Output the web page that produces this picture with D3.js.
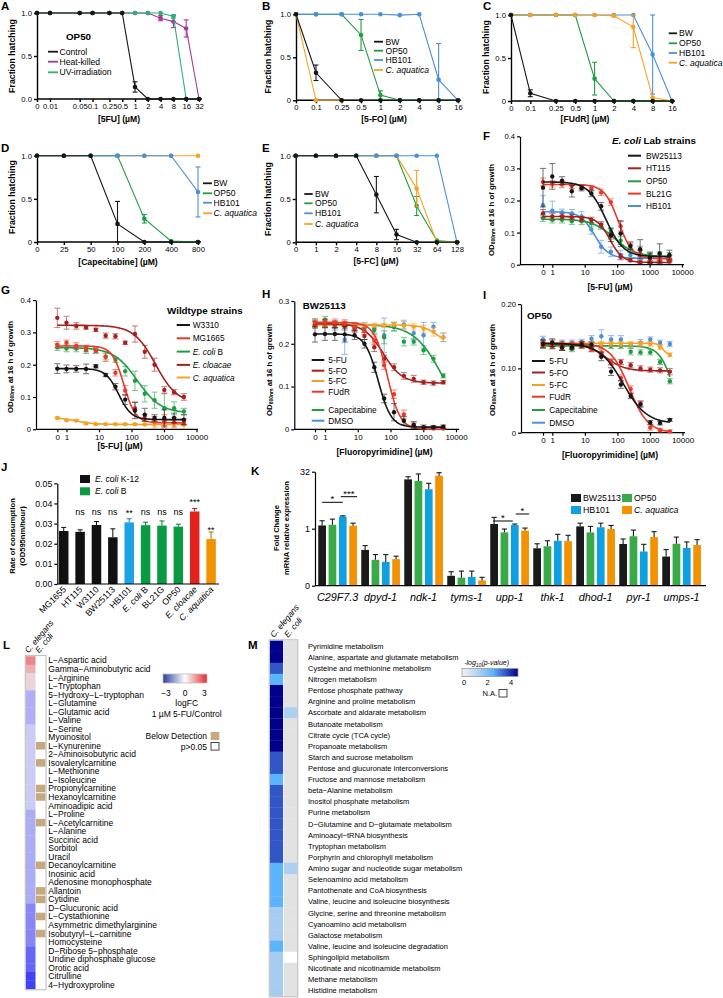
<!DOCTYPE html>
<html><head><meta charset="utf-8">
<script src="https://cdn.jsdelivr.net/npm/d3@7/dist/d3.min.js"></script>
<style>
html,body{margin:0;padding:0;background:#fff;}
svg{display:block;font-family:"Liberation Sans",Arial,Helvetica,sans-serif;}
</style></head><body>
<svg id="chart" width="723" height="998" viewBox="0 0 723 998"></svg>
<script>
// ======================= DATA =======================
// Panel A (OP50, 5FU)
const A_conc = [0,0.01,0.05,0.1,0.25,0.5,1,2,4,8,16,32];
const A_labels = ["0","0.01","0.05","0.1","0.25","0.5","1","2","4","8","16","32"];
const A_control = [1,1,1,1,1,1,0.14,0,0,0,0,0];
const A_control_err = [0,0,0,0,0,0,0.06,0,0,0,0,0];
const A_heat = [1,1,1,1,1,1,1,1,0.94,0.90,0.82,0];
const A_heat_err = [0,0,0,0,0,0,0,0,0.03,0.07,0.10,0];
const A_uv = [1,1,1,1,1,1,1,1,1,0.96,0,null];
const A_uv_err = [0,0,0,0,0,0,0,0,0,0.02,0,0];
// Panel B (5-FO)
const BC_conc = [0,0.1,0.25,0.5,1,2,4,8,16];
const BC_labels = ["0","0.1","0.25","0.5","1","2","4","8","16"];
const B_BW = [1,0.32,0,0,0,0,0,0,0];
const B_BW_err = [0,0.09,0,0,0,0,0,0,0];
const B_OP50 = [1,1,1,0.76,0.06,0,0,0,0];
const B_OP50_err = [0,0,0,0.18,0.05,0,0,0,0];
const B_HB101 = [1,1,1,1,1,0.99,1,0.24,0];
const B_HB101_err = [0,0,0,0,0,0,0,0.42,0];
const B_Caq = [1,0,0,null,null,null,null,null,null];
// Panel C (FUdR)
const C_BW = [1,0.09,0,0,0,0,0,0,0];
const C_BW_err = [0,0.04,0,0,0,0,0,0,0];
const C_OP50 = [1,1,1,1,0.26,0,0,0,0];
const C_OP50_err = [0,0,0,0,0.19,0,0,0,0];
const C_HB101 = [1,1,1,1,1,1,1,0.54,0];
const C_HB101_err = [0,0,0,0,0,0,0,0.46,0];
const C_Caq = [1,1,1,1,1,0.99,0.86,0.04,0];
const C_Caq_err = [0,0,0,0,0,0.01,0.24,0,0];
// Panel D (Capecitabine)
const D_labels = ["0","25","50","100","200","400","800"];
const D_BW = [1,1,1,0.21,0,0,0];
const D_BW_err = [0,0,0,0.26,0,0,0];
const D_OP50 = [1,1,1,1,0.27,0.01,0];
const D_OP50_err = [0,0,0,0,0.05,0,0];
const D_HB101 = [1,1,1,1,1,1,0.58];
const D_HB101_err = [0,0,0,0,0,0,0.29];
const D_Caq = [1,1,1,1,1,1,1];
// Panel E (5-FC)
const E_labels = ["0","1","2","4","8","16","32","64","128"];
const E_BW = [1,1,1,1,0.55,0.09,0,0,0];
const E_BW_err = [0,0,0,0,0.21,0.06,0,0,0];
const E_OP50 = [1,1,1,1,1,1,0.42,0.02,0];
const E_OP50_err = [0,0,0,0,0,0,0.11,0,0];
const E_HB101 = [1,1,1,1,1,1,1,1,0];
const E_Caq = [1,1,1,1,1,1,0.62,0,0];
const E_Caq_err = [0,0,0,0,0,0,0.21,0,0];

// Panels F-I dose response (OD600 at 16 h)
const FI_conc = [0,1,2,4,8,16,32,64,128,256,512,1024,2048,4096];
const FI_ticks = [0,1,10,100,1000,10000];
const FI_tickLabels = ["0","1","10","100","1000","10000"];
// fit parameters: [top, bottom, IC50, hill]
const F_BW25113 = [0.240,0.275,0.262,0.229,0.238,0.222,0.182,0.092,0.097,0.058,0.048,0.022,0.035,0.030];
const F_BW25113_err = [0.060,0.040,0.012,0.018,0.008,0.010,0.012,0.020,0.040,0.010,0.030,0.015,0.030,0.015];
const F_BW25113_fit = [0.258,0.025,45,1.6];
const F_HT115 = [0.160,0.150,0.150,0.148,0.142,0.140,0.125,0.090,0.025,0.014,0.008,0.008,0.010,0.010];
const F_HT115_err = [0.012,0.010,0.008,0.008,0.008,0.008,0.010,0.010,0.008,0.005,0.004,0.004,0.004,0.004];
const F_HT115_fit = [0.150,0.007,60,2.2];
const F_OP50 = [0.145,0.140,0.140,0.135,0.135,0.130,0.120,0.105,0.075,0.050,0.045,0.030,0.030,0.028];
const F_OP50_err = [0.010,0.010,0.010,0.010,0.010,0.010,0.010,0.010,0.012,0.012,0.012,0.010,0.010,0.010];
const F_OP50_fit = [0.142,0.025,80,1.3];
const F_BL21G = [0.258,0.252,0.250,0.245,0.242,0.238,0.225,0.195,0.120,0.060,0.035,0.022,0.020,0.020];
const F_BL21G_err = [0.012,0.010,0.010,0.008,0.008,0.008,0.010,0.010,0.015,0.012,0.010,0.008,0.008,0.008];
const F_BL21G_fit = [0.250,0.018,110,2.0];
const F_HB101 = [0.185,0.168,0.163,0.160,0.150,0.110,0.056,0.040,0.030,0.030,0.025,0.020,0.020,0.020];
const F_HB101_err = [0.030,0.030,0.010,0.012,0.015,0.015,0.020,0.015,0.015,0.010,0.010,0.015,0.010,0.010];
const F_HB101_fit = [0.165,0.020,20,2.0];

const G_W3310 = [0.188,0.187,0.187,0.187,0.195,0.168,0.132,0.092,0.058,0.045,0.035,0.035,0.035,0.030];
const G_W3310_err = [0.015,0.012,0.010,0.015,0.005,0.005,0.010,0.015,0.025,0.020,0.010,0.025,0.015,0.015];
const G_W3310_fit = [0.188,0.030,40,2.2];
const G_MG1665 = [0.262,0.268,0.258,0.250,0.245,0.225,0.175,0.120,0.065,0.035,0.030,0.025,0.022,0.022];
const G_MG1665_err = [0.010,0.008,0.010,0.010,0.008,0.015,0.010,0.015,0.020,0.010,0.010,0.020,0.015,0.010];
const G_MG1665_fit = [0.258,0.020,58,2.4];
const G_EcoliB = [0.254,0.250,0.250,0.245,0.243,0.225,0.215,0.180,0.150,0.110,0.090,0.065,0.065,0.055];
const G_EcoliB_err = [0.010,0.010,0.010,0.010,0.008,0.010,0.008,0.015,0.030,0.025,0.025,0.045,0.020,0.010];
const G_EcoliB_fit = [0.253,0.050,150,1.2];
const G_Ecloacae = [0.345,0.330,0.320,0.315,0.308,0.290,0.288,0.268,0.295,0.240,0.200,0.122,0.115,0.100];
const G_Ecloacae_err = [0.030,0.020,0.010,0.005,0.005,0.008,0.008,0.005,0.025,0.020,0.020,0.010,0.008,0.010];
const G_Ecloacae_fit = [0.322,0.080,550,1.3];
const G_Caq = [0.035,0.028,0.027,0.018,0.016,0.016,0.016,0.016,0.016,0.015,0.015,0.015,0.015,0.015];
const G_Caq_err = [0.003,0.003,0.003,0.002,0.002,0.002,0.002,0.002,0.002,0.002,0.010,0.012,0.012,0.012];
const G_Caq_fit = [0.037,0.015,2,1.5];

const H_5FU = [0.222,0.223,0.223,0.222,0.220,0.200,0.145,0.072,0.040,0.020,0.010,0.005,0.005,0.006];
const H_5FU_err = [0.018,0.015,0.015,0.018,0.010,0.010,0.012,0.010,0.020,0.010,0.008,0.005,0.004,0.004];
const H_5FU_fit = [0.223,0.005,42,2.2];
const H_5FO = [0.245,0.248,0.245,0.243,0.235,0.218,0.192,0.165,0.145,0.125,0.118,0.110,0.108,0.110];
const H_5FO_err = [0.008,0.008,0.008,0.008,0.008,0.008,0.010,0.008,0.008,0.008,0.008,0.005,0.005,0.004];
const H_5FO_fit = [0.247,0.108,60,1.5];
const H_5FC = [0.245,0.245,0.245,0.245,0.243,0.243,0.243,0.243,0.245,0.242,0.240,0.235,0.228,0.215];
const H_5FC_err = [0.008,0.008,0.008,0.008,0.005,0.005,0.005,0.005,0.005,0.010,0.008,0.008,0.010,0.010];
const H_5FC_fit = [0.244,0.200,2500,2];
const H_FUdR = [0.250,0.250,0.250,0.248,0.240,0.230,0.208,0.150,0.082,0.035,0.010,0.002,0.002,0.002];
const H_FUdR_err = [0.008,0.008,0.008,0.008,0.008,0.008,0.010,0.010,0.010,0.010,0.005,0.004,0.003,0.003];
const H_FUdR_fit = [0.250,0.000,80,2.2];
const H_Cape = [0.250,0.256,0.245,0.240,0.240,0.235,0.232,0.215,0.240,0.205,0.205,0.185,0.165,0.125];
const H_Cape_err = [0.008,0.008,0.008,0.008,0.008,0.008,0.010,0.015,0.010,0.010,0.008,0.010,0.008,0.005];
const H_Cape_fit = [0.245,0.000,4000,1];
const H_DMSO = [0.245,0.245,0.240,0.210,0.240,0.240,0.235,0.220,0.240,0.245,0.225,0.220,0.240,0.215];
const H_DMSO_err = [0.008,0.008,0.008,0.035,0.010,0.010,0.010,0.040,0.010,0.010,0.015,0.030,0.010,0.010];

const I_5FU = [0.138,0.140,0.133,0.133,0.137,0.137,0.118,0.095,0.075,0.057,0.044,0.016,0.015,0.020];
const I_5FU_err = [0.006,0.006,0.005,0.004,0.004,0.004,0.006,0.006,0.006,0.004,0.004,0.003,0.003,0.002];
const I_5FU_fit = [0.139,0.014,150,1.2];
const I_5FO = [0.137,0.135,0.132,0.135,0.138,0.130,0.122,0.110,0.110,0.105,0.100,0.098,0.097,0.095];
const I_5FO_err = [0.004,0.004,0.004,0.004,0.004,0.004,0.004,0.004,0.004,0.004,0.004,0.004,0.004,0.005];
const I_5FO_fit = [0.138,0.096,45,1.5];
const I_5FC = [0.136,0.135,0.133,0.135,0.138,0.138,0.138,0.138,0.138,0.138,0.138,0.138,0.133,0.121];
const I_5FC_err = [0.004,0.004,0.004,0.004,0.004,0.004,0.004,0.004,0.004,0.004,0.004,0.004,0.004,0.003];
const I_5FC_fit = [0.139,0.121,2500,6];
const I_FUdR = [0.140,0.140,0.138,0.137,0.135,0.130,0.125,0.110,0.085,0.068,0.045,0.008,0.004,0.002];
const I_FUdR_err = [0.004,0.004,0.004,0.004,0.004,0.004,0.004,0.005,0.005,0.005,0.005,0.004,0.003,0.002];
const I_FUdR_fit = [0.139,0.000,230,1.5];
const I_Cape = [0.135,0.134,0.133,0.130,0.135,0.135,0.135,0.135,0.135,0.126,0.125,0.125,0.110,0.080];
const I_Cape_err = [0.004,0.004,0.004,0.004,0.004,0.004,0.004,0.004,0.004,0.005,0.004,0.004,0.004,0.004];
const I_Cape_fit = [0.135,0.000,5500,2];
const I_DMSO = [0.145,0.140,0.140,0.140,0.141,0.146,0.150,0.145,0.145,0.136,0.140,0.145,0.140,0.138];
const I_DMSO_err = [0.005,0.004,0.004,0.004,0.004,0.005,0.010,0.006,0.006,0.004,0.005,0.004,0.004,0.004];

// Panel J
const J_strains = ["MG1655","HT115","W3110","BW25113","HB101","E. coli B","BL21G","OP50","E. cloacae","C. aquatica"];
const J_rate = [0.0263,0.0259,0.0293,0.0232,0.0306,0.0292,0.0290,0.0285,0.0360,0.0223];
const J_err = [0.0018,0.0010,0.0017,0.0042,0.0018,0.0015,0.0023,0.0012,0.0015,0.0035];
const J_group = ["k12","k12","k12","k12","hb","b","b","b","clo","caq"];
const J_sig = ["","ns","ns","ns","**","ns","ns","ns","***","**"];
const J_yTicks = [0,0.01,0.02,0.03,0.04,0.05];

// Panel K
const K_genes = ["C29F7.3","dpyd-1","ndk-1","tyms-1","upp-1","thk-1","dhod-1","pyr-1","umps-1"];
const K_strains = ["BW25113","OP50","HB101","C. aquatica"];
const K_BW25113 = [1.22,0.275,20.1,0.057,1.33,0.304,1.15,0.395,0.184];
const K_OP50 = [1.27,0.151,18.3,0.051,0.80,0.344,0.80,0.63,0.40];
const K_HB101 = [2.11,0.133,11.0,0.053,1.25,0.48,1.09,0.25,0.31];
const K_Caq = [1.20,0.157,25.1,0.043,0.89,0.47,0.98,0.60,0.37];
const K_BW25113_hi = [1.62,0.358,23.6,0.073,1.99,0.40,1.40,0.535,0.28];
const K_OP50_hi = [1.79,0.207,27.9,0.076,0.98,0.48,1.15,0.92,0.60];
const K_HB101_hi = [2.19,0.207,15.8,0.076,1.33,0.71,1.40,0.387,0.447];
const K_Caq_hi = [1.40,0.188,30.1,0.052,1.04,0.67,1.22,0.835,0.514];
const K_yTicks = [1/32,1,32];
const K_yLabels = ["0","1","32"];

// Panel L
const L_metabolites = ["L\u2212Aspartic acid","Gamma\u2212Aminobutyric acid","L\u2212Arginine","L\u2212Tryptophan","5\u2212Hydroxy\u2212L\u2212tryptophan","L\u2212Glutamine","L\u2212Glutamic acid","L\u2212Valine","L\u2212Serine","Myoinositol","L\u2212Kynurenine","2\u2212Aminoisobutyric acid","Isovalerylcarnitine","L\u2212Methionine","L\u2212Isoleucine","Propionylcarnitine","Hexanoylcarnitine","Aminoadipic acid","L\u2212Proline","L\u2212Acetylcarnitine","L\u2212Alanine","Succinic acid","Sorbitol","Uracil","Decanoylcarnitine","Inosinic acid","Adenosine monophosphate","Allantoin","Cytidine","D\u2212Glucuronic acid","L\u2212Cystathionine","Asymmetric dimethylarginine","Isobutyryl\u2212L\u2212carnitine","Homocysteine","D\u2212Ribose 5\u2212phosphate","Uridine diphosphate glucose","Orotic acid","Citrulline","4\u2212Hydroxyproline"];
const L_celegans = [1.7,1.0,0.4,0.4,-0.95,-0.95,-0.95,-0.95,-0.5,-0.5,-0.5,-0.5,-0.5,-0.5,-0.5,-0.5,-0.5,-0.5,-1.0,-1.0,-1.0,-1.0,-1.0,-1.0,-1.0,-1.0,-1.0,-1.0,-1.0,-1.6,-1.6,-1.6,-1.6,-1.6,-2.1,-2.1,-2.1,-2.7,-2.7];
const L_ecoli = ["ns","ns","ns","ns","ns","ns","ns","ns","ns","ns","bd","ns","bd","ns","ns","bd","bd","ns","ns","bd","ns","ns","ns","ns","bd","ns","ns","bd","bd","ns","bd","ns","bd","ns","ns","ns","ns","ns","ns"];

// Panel M
const M_pathways = ["Pyrimidine metabolism","Alanine, aspartate and glutamate metabolism","Cysteine and methionine metabolism","Nitrogen metabolism","Pentose phosphate pathway","Arginine and proline metabolism","Ascorbate and aldarate metabolism","Butanoate metabolism","Citrate cycle (TCA cycle)","Propanoate metabolism","Starch and sucrose metabolism","Pentose and glucuronate interconversions","Fructose and mannose metabolism","beta\u2212Alanine metabolism","Inositol phosphate metabolism","Purine metabolism","D\u2212Glutamine and D\u2212glutamate metabolism","Aminoacyl\u2212tRNA biosynthesis","Tryptophan metabolism","Porphyrin and chlorophyll metabolism","Amino sugar and nucleotide sugar metabolism","Selenoamino acid metabolism","Pantothenate and CoA biosynthesis","Valine, leucine and isoleucine biosynthesis","Glycine, serine and threonine metabolism","Cyanoamino acid metabolism","Galactose metabolism","Valine, leucine and isoleucine degradation","Sphingolipid metabolism","Nicotinate and nicotinamide metabolism","Methane metabolism","Histidine metabolism"];
const M_celegans = [4.6,4.6,3.5,2.3,4.6,4.6,4.6,4.6,4.6,4.6,3.5,3.5,2.3,3.5,3.5,3.5,3.5,3.5,3.5,3.5,2.3,2.3,2.3,2.3,1.5,1.5,1.5,2.3,1.5,1.5,1.5,1.5];
const M_ecoli = [null,null,null,null,null,null,1.4,null,null,null,null,null,null,null,null,null,null,null,null,null,1.4,null,null,null,null,null,null,null,0,null,null,null];

// ======================= COLOURS =======================
const BLACK="#161616", PURPLE="#a23a9d", MINT="#2fae78", GREEN="#1f9d42", BLUE="#4a90d9", ORANGE="#f5a224", DKRED="#a3211f", RED="#e8392a";

// ======================= HELPERS =======================
const svg = d3.select("#chart");
const defs = svg.append("defs");
function addText(x, y, str, o = {}) {
  const t = svg.append("text").attr("x", x).attr("y", y)
    .attr("font-size", o.size || 8).attr("fill", o.fill || "#000");
  if (o.anchor) t.attr("text-anchor", o.anchor);
  if (o.weight) t.attr("font-weight", o.weight);
  if (o.italic) t.attr("font-style", "italic");
  if (o.rotate != null) t.attr("transform", `rotate(${o.rotate},${x},${y})`);
  if (o.baseline) t.attr("dominant-baseline", o.baseline);
  if (Array.isArray(str)) {
    str.forEach(p => { const s = t.append("tspan").text(p[0]); if (p[1]) s.attr("font-style","italic"); });
  } else t.text(str);
  return t;
}
function styleAxis(a, size, sw) {
  a.attr("font-size", size).attr("font-family", "Liberation Sans, Arial, sans-serif");
  a.selectAll("path,line").attr("stroke", "#000").attr("stroke-width", sw);
  a.selectAll("text").attr("fill", "#000");
}
function legend(L) {
  L.items.forEach((it, i) => {
    svg.append("line").attr("x1", L.x1).attr("x2", L.x2).attr("y1", L.ys[i]).attr("y2", L.ys[i])
      .attr("stroke", it.color).attr("stroke-width", L.sw || 1.8);
    let content = it.name;
    if (it.italic) {
      const w = it.name.split(" ");
      content = [[w.slice(0, 2).join(" "), true]];
      if (w.length > 2) content.push([" " + w.slice(2).join(" "), false]);
    }
    addText(L.tx, L.ys[i] + 3, content, { size: L.size || 8.6 });
  });
}
function yTitle(x, y, str, size) {
  addText(x, y, str, { size: size || 8.8, weight: "bold", anchor: "middle", rotate: -90, baseline: "central" });
}
function odTitle(x, y) {
  const t = svg.append("text").attr("x", x).attr("y", y).attr("font-size", 7.8).attr("font-weight", "bold")
    .attr("text-anchor", "middle").attr("dominant-baseline", "central").attr("transform", `rotate(-90,${x},${y})`);
  t.append("tspan").text("OD");
  t.append("tspan").text("600nm").attr("font-size", 5).attr("dy", 1.8);
  t.append("tspan").text(" at 16 h of growth").attr("dy", -1.8);
}

// ======================= HATCHING PANELS =======================
function hatchPanel(p) {
  const g = svg.append("g");
  const y = d3.scaleLinear().domain([0, 1]).range([p.yb, p.yt]);
  const ga = g.append("g").attr("transform", `translate(${p.ax},0)`)
    .call(d3.axisLeft(y).tickValues([0, 0.5, 1]).tickFormat((d, i) => p.yLabels[i]).tickSize(3).tickSizeOuter(0).tickPadding(2));
  const xo = d3.scaleOrdinal().domain(p.labels).range(p.conc.map(p.pos));
  const gx = g.append("g").attr("transform", `translate(0,${p.yb})`)
    .call(d3.axisBottom(xo).tickSize(3).tickPadding(1.5));
  gx.select(".domain").remove();
  styleAxis(ga, 7.7, 1.4); styleAxis(gx, 7.7, 1.4);
  g.append("line").attr("x1", p.ax).attr("x2", p.xEnd).attr("y1", p.yb).attr("y2", p.yb).attr("stroke", "#000").attr("stroke-width", 1.4);
  p.series.forEach(s => {
    const pts = p.conc.map((c, i) => ({ x: p.pos(c), v: s.vals[i], e: s.err ? s.err[i] : 0 })).filter(d => d.v != null);
    g.append("path").datum(pts).attr("fill", "none").attr("stroke", s.color).attr("stroke-width", 1.1)
      .attr("d", d3.line().x(d => d.x).y(d => y(d.v)));
    pts.filter(d => d.e > 0).forEach(d => {
      const lo = y(Math.max(0, d.v - d.e)), hi = y(Math.min(1, d.v + d.e));
      g.append("line").attr("x1", d.x).attr("x2", d.x).attr("y1", lo).attr("y2", hi).attr("stroke", s.color).attr("stroke-width", 1.1);
      [lo, hi].forEach(yy => g.append("line").attr("x1", d.x - 2.5).attr("x2", d.x + 2.5).attr("y1", yy).attr("y2", yy).attr("stroke", s.color).attr("stroke-width", 1.1));
    });
    g.selectAll(null).data(pts).enter().append("circle").attr("cx", d => d.x).attr("cy", d => y(d.v)).attr("r", 2.3).attr("fill", s.color);
  });
  addText(p.xTitle[1], p.xTitle[2], p.xTitle[0], { size: 8.6, weight: "bold", anchor: "middle" });
  yTitle(p.yTitleX, p.yTitleY, "Fraction hatching", 8.8);
}

// A
(function () {
  const xs = d3.scaleLog().domain([0.01, 32]).range([50, 199]);
  hatchPanel({ ax: 37, yt: 13, yb: 99, xEnd: 202, conc: A_conc, labels: A_labels, pos: c => c === 0 ? 37 : xs(c),
    yLabels: ["0.0", "0.5", "1.0"],
    series: [{ vals: A_heat, err: A_heat_err, color: PURPLE }, { vals: A_uv, err: A_uv_err, color: MINT }, { vals: A_control, err: A_control_err, color: BLACK }],
    xTitle: ["[5FU] (\u00b5M)", 119, 121.5], yTitleX: 12, yTitleY: 56 });
  addText(66, 40, "OP50", { size: 9.8, weight: "bold" });
  legend({ x1: 48, x2: 58, tx: 59.5, ys: [51.7, 61.7, 72.3], items: [{ name: "Control", color: BLACK }, { name: "Heat-killed", color: PURPLE }, { name: "UV-irradiation", color: MINT }] });
})();
// B
(function () {
  const xs = d3.scaleLog().domain([0.1, 16]).range([316, 458]);
  hatchPanel({ ax: 296, yt: 14.3, yb: 100.3, xEnd: 461, conc: BC_conc, labels: BC_labels, pos: c => c === 0 ? 296 : xs(c),
    yLabels: ["0", "0.5", "1.0"],
    series: [{ vals: B_OP50, err: B_OP50_err, color: GREEN }, { vals: B_HB101, err: B_HB101_err, color: BLUE }, { vals: B_Caq, color: ORANGE }, { vals: B_BW, err: B_BW_err, color: BLACK }],
    xTitle: ["[5-FO] (\u00b5M)", 384, 121.5], yTitleX: 268, yTitleY: 56.5 });
  legend({ x1: 374, x2: 383, tx: 385.5, ys: [41.7, 50.7, 60, 70], items: [{ name: "BW", color: BLACK }, { name: "OP50", color: GREEN }, { name: "HB101", color: BLUE }, { name: "C. aquatica", color: ORANGE, italic: true }] });
})();
// C
(function () {
  const xs = d3.scaleLog().domain([0.1, 16]).range([530.3, 672]);
  hatchPanel({ ax: 511, yt: 15, yb: 101, xEnd: 675, conc: BC_conc, labels: BC_labels, pos: c => c === 0 ? 511 : xs(c),
    yLabels: ["0", "0.5", "1.0"],
    series: [{ vals: C_OP50, err: C_OP50_err, color: GREEN }, { vals: C_HB101, err: C_HB101_err, color: BLUE }, { vals: C_Caq, err: C_Caq_err, color: ORANGE }, { vals: C_BW, err: C_BW_err, color: BLACK }],
    xTitle: ["[FUdR] (\u00b5M)", 585, 122], yTitleX: 486, yTitleY: 57 });
  legend({ x1: 668.7, x2: 677, tx: 679, ys: [33.3, 43.3, 53, 62.7], items: [{ name: "BW", color: BLACK }, { name: "OP50", color: GREEN }, { name: "HB101", color: BLUE }, { name: "C. aquatica", color: ORANGE, italic: true }] });
})();
// D
(function () {
  const xp = d3.scalePoint().domain(D_labels).range([37, 198]);
  hatchPanel({ ax: 37, yt: 155.7, yb: 242, xEnd: 201, conc: D_labels, labels: D_labels, pos: c => xp(c),
    yLabels: ["0", "0.5", "1.0"],
    series: [{ vals: D_Caq, color: ORANGE }, { vals: D_OP50, err: D_OP50_err, color: GREEN }, { vals: D_HB101, err: D_HB101_err, color: BLUE }, { vals: D_BW, err: D_BW_err, color: BLACK }],
    xTitle: ["[Capecitabine] (\u00b5M)", 118, 264.5], yTitleX: 12, yTitleY: 197 });
  legend({ x1: 203, x2: 212, tx: 213.5, ys: [183.3, 193.3, 202.7, 213.3], items: [{ name: "BW", color: BLACK }, { name: "OP50", color: GREEN }, { name: "HB101", color: BLUE }, { name: "C. aquatica", color: ORANGE, italic: true }] });
})();
// E
(function () {
  const xp = d3.scalePoint().domain(E_labels).range([295.7, 457]);
  hatchPanel({ ax: 295.7, yt: 155.7, yb: 242.3, xEnd: 460, conc: E_labels, labels: E_labels, pos: c => xp(c),
    yLabels: ["0", "0.5", "1.0"],
    series: [{ vals: E_OP50, err: E_OP50_err, color: GREEN }, { vals: E_Caq, err: E_Caq_err, color: ORANGE }, { vals: E_HB101, color: BLUE }, { vals: E_BW, err: E_BW_err, color: BLACK }],
    xTitle: ["[5-FC] (\u00b5M)", 376, 264], yTitleX: 268, yTitleY: 199 });
  legend({ x1: 304.3, x2: 312.7, tx: 315, ys: [194, 203.3, 213.3, 224], items: [{ name: "BW", color: BLACK }, { name: "OP50", color: GREEN }, { name: "HB101", color: BLUE }, { name: "C. aquatica", color: ORANGE, italic: true }] });
})();

// ======================= DOSE-RESPONSE PANELS =======================
function dosePanel(p) {
  const g = svg.append("g");
  const y = d3.scaleLinear().domain([0, p.ymax]).range([p.yb, p.yt]);
  const xs = d3.scaleLog().domain([1, 10000]).range([p.x1, p.x4]);
  const pos = c => c === 0 ? p.x0 : xs(c);
  const ga = g.append("g").attr("transform", `translate(${p.ax},0)`)
    .call(d3.axisLeft(y).tickValues(p.yTicks).tickFormat((d, i) => p.yLabels[i]).tickSize(3).tickSizeOuter(0).tickPadding(2));
  const xo = d3.scaleOrdinal().domain(FI_tickLabels).range(FI_ticks.map(pos));
  const gx = g.append("g").attr("transform", `translate(0,${p.yb})`).call(d3.axisBottom(xo).tickSize(3).tickPadding(2));
  gx.select(".domain").remove();
  styleAxis(ga, 7.6, 1.2); styleAxis(gx, 8, 1.2);
  g.append("line").attr("x1", p.ax).attr("x2", p.xEnd).attr("y1", p.yb).attr("y2", p.yb).attr("stroke", "#000").attr("stroke-width", 1.2);
  const lo = xs.invert(p.x0), hi = 4096;
  const samples = d3.range(120).map(i => lo * Math.pow(hi / lo, i / 119));
  p.series.forEach(s => {
    const pts = FI_conc.map((c, i) => ({ x: pos(c), v: s.vals[i], e: s.err[i] }));
    const eg = g.append("g").attr("stroke", s.color).attr("stroke-width", 1).attr("opacity", 0.6);
    pts.forEach(d => {
      const a = y(Math.max(0, d.v - d.e)), b = y(d.v + d.e);
      eg.append("line").attr("x1", d.x).attr("x2", d.x).attr("y1", a).attr("y2", b);
      [a, b].forEach(yy => eg.append("line").attr("x1", d.x - 3).attr("x2", d.x + 3).attr("y1", yy).attr("y2", yy));
    });
    if (s.fit) {
      const [top, bot, ic, h] = s.fit;
      g.append("path").datum(samples).attr("fill", "none").attr("stroke", s.color).attr("stroke-width", 1.6)
        .attr("d", d3.line().x(c => xs(c)).y(c => y(bot + (top - bot) / (1 + Math.pow(c / ic, h)))));
    }
    g.selectAll(null).data(pts).enter().append("circle").attr("cx", d => d.x).attr("cy", d => y(d.v)).attr("r", 2.2).attr("fill", s.color);
  });
  addText(p.xTitle[1], p.xTitle[2], p.xTitle[0], { size: 8.6, weight: "bold", anchor: "middle" });
  odTitle(p.yTitleX, p.yTitleY);
}
// F
dosePanel({ ax: 520, yb: 264.7, yt: 136.3, ymax: 0.4, yTicks: [0, 0.1, 0.2, 0.3, 0.4], yLabels: ["0", "0.1", "0.2", "0.3", "0.4"],
  x0: 543, x1: 552.3, x4: 682, xEnd: 684,
  series: [
    { vals: F_HB101, err: F_HB101_err, fit: F_HB101_fit, color: BLUE },
    { vals: F_OP50, err: F_OP50_err, fit: F_OP50_fit, color: GREEN },
    { vals: F_HT115, err: F_HT115_err, fit: F_HT115_fit, color: DKRED },
    { vals: F_BL21G, err: F_BL21G_err, fit: F_BL21G_fit, color: RED },
    { vals: F_BW25113, err: F_BW25113_err, fit: F_BW25113_fit, color: BLACK }],
  xTitle: ["[5-FU] (\u00b5M)", 610, 290], yTitleX: 491, yTitleY: 210 });
addText(612, 143.5, [["E. coli", true], [" Lab strains", false]], { size: 9.8, weight: "bold" });
legend({ x1: 628, x2: 641, tx: 646, ys: [155.7, 168.3, 181.3, 193.6, 206], sw: 2, size: 8.3,
  items: [{ name: "BW25113", color: BLACK }, { name: "HT115", color: DKRED }, { name: "OP50", color: GREEN }, { name: "BL21G", color: RED }, { name: "HB101", color: BLUE }] });
// G
dosePanel({ ax: 36, yb: 429.3, yt: 300.1, ymax: 0.4, yTicks: [0, 0.1, 0.2, 0.3, 0.4], yLabels: ["0", "0.1", "0.2", "0.3", "0.4"],
  x0: 57.3, x1: 66.5, x4: 196.5, xEnd: 198,
  series: [
    { vals: G_Caq, err: G_Caq_err, fit: G_Caq_fit, color: ORANGE },
    { vals: G_EcoliB, err: G_EcoliB_err, fit: G_EcoliB_fit, color: GREEN },
    { vals: G_Ecloacae, err: G_Ecloacae_err, fit: G_Ecloacae_fit, color: DKRED },
    { vals: G_MG1665, err: G_MG1665_err, fit: G_MG1665_fit, color: RED },
    { vals: G_W3310, err: G_W3310_err, fit: G_W3310_fit, color: BLACK }],
  xTitle: ["[5-FU] (\u00b5M)", 120, 448.5], yTitleX: 10, yTitleY: 367 });
addText(167, 313.5, "Wildtype strains", { size: 9.8, weight: "bold" });
legend({ x1: 176.7, x2: 190, tx: 192.7, ys: [325, 338.3, 351.6, 364.9, 377.5], sw: 2, size: 8.3,
  items: [{ name: "W3310", color: BLACK }, { name: "MG1665", color: RED }, { name: "E. coli B", color: GREEN, italic: true }, { name: "E. cloacae", color: DKRED, italic: true }, { name: "C. aquatica", color: ORANGE, italic: true }] });
// H
dosePanel({ ax: 294.3, yb: 429.3, yt: 301, ymax: 0.3, yTicks: [0, 0.1, 0.2, 0.3], yLabels: ["0", "0.1", "0.2", "0.3"],
  x0: 315, x1: 325, x4: 456, xEnd: 459,
  series: [
    { vals: H_DMSO, err: H_DMSO_err, color: BLUE },
    { vals: H_Cape, err: H_Cape_err, fit: H_Cape_fit, color: GREEN },
    { vals: H_5FC, err: H_5FC_err, fit: H_5FC_fit, color: ORANGE },
    { vals: H_5FO, err: H_5FO_err, fit: H_5FO_fit, color: DKRED },
    { vals: H_FUdR, err: H_FUdR_err, fit: H_FUdR_fit, color: RED },
    { vals: H_5FU, err: H_5FU_err, fit: H_5FU_fit, color: BLACK }],
  xTitle: ["[Fluoropyrimidine] (\u00b5M)", 384.5, 455], yTitleX: 269.3, yTitleY: 370 });
addText(302.7, 308.5, "BW25113", { size: 9.8, weight: "bold" });
legend({ x1: 311.7, x2: 324.3, tx: 328.3, ys: [360, 370.7, 381, 391.7, 410, 420.7], sw: 2, size: 8.3,
  items: [{ name: "5-FU", color: BLACK }, { name: "5-FO", color: DKRED }, { name: "5-FC", color: ORANGE }, { name: "FUdR", color: RED }, { name: "Capecitabine", color: GREEN }, { name: "DMSO", color: BLUE }] });
// I
dosePanel({ ax: 521, yb: 432.7, yt: 304.1, ymax: 0.2, yTicks: [0, 0.1, 0.2], yLabels: ["0", "0.10", "0.20"],
  x0: 543, x1: 552.3, x4: 682.5, xEnd: 685,
  series: [
    { vals: I_DMSO, err: I_DMSO_err, color: BLUE },
    { vals: I_Cape, err: I_Cape_err, fit: I_Cape_fit, color: GREEN },
    { vals: I_5FC, err: I_5FC_err, fit: I_5FC_fit, color: ORANGE },
    { vals: I_5FO, err: I_5FO_err, fit: I_5FO_fit, color: DKRED },
    { vals: I_FUdR, err: I_FUdR_err, fit: I_FUdR_fit, color: RED },
    { vals: I_5FU, err: I_5FU_err, fit: I_5FU_fit, color: BLACK }],
  xTitle: ["[Fluoropyrimidine] (\u00b5M)", 610, 457.5], yTitleX: 492, yTitleY: 370 });
addText(527, 318.5, "OP50", { size: 9.8, weight: "bold" });
legend({ x1: 532, x2: 545, tx: 549.3, ys: [361, 372.5, 385, 396.7, 410, 422.7], sw: 2, size: 8.3,
  items: [{ name: "5-FU", color: BLACK }, { name: "5-FO", color: DKRED }, { name: "5-FC", color: ORANGE }, { name: "FUdR", color: RED }, { name: "Capecitabine", color: GREEN }, { name: "DMSO", color: BLUE }] });

// ======================= PANEL J =======================
(function () {
  const colJ = { k12: "#111111", hb: "#1ba3e4", b: "#0b9a44", clo: "#e3221d", caq: "#f29200" };
  const y = d3.scaleLinear().domain([0, 0.05]).range([584, 483.3]);
  const x = d3.scaleBand().domain(J_strains).range([52.1, 222.7]).padding(0.42);
  const g = svg.append("g");
  const ga = g.append("g").attr("transform", "translate(57.3,0)")
    .call(d3.axisLeft(y).tickValues(J_yTicks).tickFormat(d3.format(".2f")).tickSize(3).tickSizeOuter(0).tickPadding(2));
  styleAxis(ga, 8.8, 1.2);
  g.selectAll(null).data(J_strains).enter().append("rect")
    .attr("x", d => x(d)).attr("width", x.bandwidth())
    .attr("y", (d, i) => y(J_rate[i])).attr("height", (d, i) => y(0) - y(J_rate[i]))
    .attr("fill", (d, i) => colJ[J_group[i]]);
  J_strains.forEach((d, i) => {
    const cx = x(d) + x.bandwidth() / 2, c = d3.color(colJ[J_group[i]]).darker(0.8);
    g.append("line").attr("x1", cx).attr("x2", cx).attr("y1", y(J_rate[i])).attr("y2", y(J_rate[i] + J_err[i])).attr("stroke", c).attr("stroke-width", 1);
    g.append("line").attr("x1", cx - 2.5).attr("x2", cx + 2.5).attr("y1", y(J_rate[i] + J_err[i])).attr("y2", y(J_rate[i] + J_err[i])).attr("stroke", c).attr("stroke-width", 1);
    if (J_sig[i]) {
      const yy = J_sig[i] === "ns" ? 515 : (i === 8 ? 505 : (i === 9 ? 533 : 515.5));
      addText(cx, yy, J_sig[i], { size: 9, anchor: "middle" });
    }
    const parts = d.startsWith("E. coli") ? [["E. coli", true], [" B", false]] : (d.startsWith("E. cl") || d.startsWith("C. aq") ? [[d, true]] : d);
    addText(cx + 3, 590, parts, { size: 8.8, anchor: "end", rotate: -45 });
  });
  g.append("line").attr("x1", 57.3).attr("x2", 219).attr("y1", 584).attr("y2", 584).attr("stroke", "#000").attr("stroke-width", 1.2);
  svg.append("rect").attr("x", 80).attr("y", 475).attr("width", 10).attr("height", 8).attr("fill", colJ.k12);
  svg.append("rect").attr("x", 80).attr("y", 487.3).attr("width", 10).attr("height", 8).attr("fill", colJ.b);
  addText(95, 482, [["E. coli", true], [" K-12", false]], { size: 8.6 });
  addText(95, 494.3, [["E. coli", true], [" B", false]], { size: 8.6 });
  addText(12, 536, "Rate of consumption", { size: 7.6, weight: "bold", anchor: "middle", rotate: -90, baseline: "central" });
  addText(22.5, 536, "(OD595nm/hour)", { size: 7.6, weight: "bold", anchor: "middle", rotate: -90, baseline: "central" });
})();

// ======================= PANEL K =======================
(function () {
  const colK = ["#1a1a1a", "#3aaa48", "#0fa0e2", "#f39200"];
  const vals = [K_BW25113, K_OP50, K_HB101, K_Caq];
  const his = [K_BW25113_hi, K_OP50_hi, K_HB101_hi, K_Caq_hi];
  const y = d3.scaleLog().base(2).domain([1 / 32, 32]).range([585.7, 471.7]);
  const xg = d3.scaleBand().domain(K_genes).range([316.1, 703.1]).paddingInner(0.1).paddingOuter(0.05);
  const xs = d3.scaleBand().domain(K_strains).range([0, xg.bandwidth()]).paddingInner(0.25);
  const g = svg.append("g");
  const ga = g.append("g").attr("transform", "translate(315,0)")
    .call(d3.axisLeft(y).tickValues(K_yTicks).tickFormat((d, i) => K_yLabels[i]).tickSize(3).tickSizeOuter(0).tickPadding(2));
  styleAxis(ga, 9, 1.2);
  K_genes.forEach((gene, gi) => {
    K_strains.forEach((st, si) => {
      const x0 = xg(gene) + xs(st), v = vals[si][gi], h = his[si][gi];
      g.append("rect").attr("x", x0).attr("width", xs.bandwidth()).attr("y", y(v)).attr("height", y(1 / 32) - y(v)).attr("fill", colK[si]);
      const cx = x0 + xs.bandwidth() / 2;
      g.append("line").attr("x1", cx).attr("x2", cx).attr("y1", y(v)).attr("y2", y(h)).attr("stroke", "#1a1a1a").attr("stroke-width", 1.1);
      g.append("line").attr("x1", cx - 2.6).attr("x2", cx + 2.6).attr("y1", y(h)).attr("y2", y(h)).attr("stroke", "#1a1a1a").attr("stroke-width", 1.1);
    });
    addText(xg(gene) + xg.bandwidth() / 2, 600.5, gene, { size: 10.8, italic: true, anchor: "middle" });
  });
  g.append("line").attr("x1", 315).attr("x2", 706).attr("y1", 585.7).attr("y2", 585.7).attr("stroke", "#000").attr("stroke-width", 1.2);
  const cxOf = (gene, st) => xg(gene) + xs(st) + xs.bandwidth() / 2;
  const brk = (a, b, yy, s, ty) => {
    g.append("line").attr("x1", a).attr("x2", b).attr("y1", yy).attr("y2", yy).attr("stroke", "#000").attr("stroke-width", 1);
    addText((a + b) / 2, ty, s, { size: 9.5, anchor: "middle" });
  };
  brk(cxOf("C29F7.3", "BW25113"), cxOf("C29F7.3", "HB101"), 502.3, "*", 502);
  brk(cxOf("C29F7.3", "HB101") - 2, cxOf("C29F7.3", "C. aquatica") + 4, 496.7, "***", 497);
  brk(cxOf("upp-1", "BW25113") - 1, cxOf("upp-1", "HB101") - 2, 521, "*", 521);
  brk(cxOf("upp-1", "HB101") + 1, cxOf("upp-1", "C. aquatica") + 4, 514, "*", 514);
  const lg = [[571, 494, "BW25113", 0], [622, 494, "OP50", 1], [571, 506, "HB101", 2], [622, 506, "C. aquatica", 3]];
  lg.forEach(([lx, ly, name, ci]) => {
    svg.append("rect").attr("x", lx).attr("y", ly).attr("width", 10).attr("height", 8).attr("fill", colK[ci]);
    addText(lx + 12, ly + 7.3, name, { size: 8.8, italic: ci === 3 });
  });
  addText(276, 528, "Fold Change", { size: 7.6, weight: "bold", anchor: "middle", rotate: -90, baseline: "central" });
  addText(286, 528, "mRNA relative expression", { size: 7.6, weight: "bold", anchor: "middle", rotate: -90, baseline: "central" });
})();

// ======================= PANEL L =======================
(function () {
  const rows = d3.scaleBand().domain(L_metabolites).range([656.2, 989]);
  const cols = d3.scaleBand().domain(["C. elegans", "E. coli"]).range([26, 45.5]).paddingInner(0.05);
  const col = d3.scaleLinear().domain([-3, 0, 3]).range(["#2e2ef5", "#ebebf2", "#ee3838"]);
  const g = svg.append("g");
  g.selectAll(null).data(L_metabolites).enter().append("rect")
    .attr("x", cols("C. elegans")).attr("width", cols.bandwidth()).attr("y", d => rows(d)).attr("height", rows.bandwidth() + 0.3)
    .attr("fill", (d, i) => col(L_celegans[i]));
  g.selectAll(null).data(L_metabolites).enter().append("rect")
    .attr("x", cols("E. coli")).attr("width", cols.bandwidth()).attr("y", d => rows(d) + 0.5).attr("height", rows.bandwidth() - 1)
    .attr("fill", (d, i) => L_ecoli[i] === "bd" ? "#c8a97f" : "#ffffff");
  g.append("rect").attr("x", 25.3).attr("y", 655.5).attr("width", 20.7).attr("height", 334.2).attr("fill", "none").attr("stroke", "#c4c4c4").attr("stroke-width", 1.2);
  L_metabolites.forEach(m => addText(48.3, rows(m) + rows.bandwidth() / 2 + 3, m, { size: 8.5 }));
  addText(28.5, 653.5, "C. elegans", { size: 8.3, italic: true, rotate: -50 });
  addText(39, 653.5, "E. coli", { size: 8.3, italic: true, rotate: -50 });
  const lgr = defs.append("linearGradient").attr("id", "lfc");
  [["0%", "#2c3f9c"], ["50%", "#ffffff"], ["100%", "#e52b2b"]].forEach(s => lgr.append("stop").attr("offset", s[0]).attr("stop-color", s[1]));
  svg.append("rect").attr("x", 163).attr("y", 674).attr("width", 44).attr("height", 9).attr("fill", "url(#lfc)").attr("stroke", "#bdbdbd").attr("stroke-width", 0.8);
  const lx = d3.scaleLinear().domain([-3, 3]).range([166, 204.3]);
  [-3, 0, 3].forEach(v => addText(lx(v), 695.5, v < 0 ? "\u22123" : String(v), { size: 8.5, anchor: "middle" }));
  addText(186.7, 705.5, "logFC", { size: 8.5, anchor: "middle" });
  addText(186.7, 717, "1 \u00b5M 5-FU/Control", { size: 8.5, anchor: "middle" });
  addText(207, 739, "Below Detection", { size: 8.5, anchor: "end" });
  svg.append("rect").attr("x", 210.7).attr("y", 732).attr("width", 8.6).attr("height", 8).attr("fill", "#c8a97f");
  addText(207, 749.5, "p>0.05", { size: 8.5, anchor: "end" });
  svg.append("rect").attr("x", 211).attr("y", 742.5).attr("width", 8).attr("height", 7.6).attr("fill", "#fff").attr("stroke", "#333").attr("stroke-width", 0.9);
})();

// ======================= PANEL M =======================
(function () {
  const rows = d3.scaleBand().domain(M_pathways).range([640.5, 996.2]);
  const cols = d3.scaleBand().domain(["C. elegans", "E. coli"]).range([270, 297]).paddingInner(0.06);
  const col = d3.scaleLinear().domain([0, 1.5, 2.3, 3.5, 4.6]).range(["#ffffff", "#a6cdf0", "#5cb5fb", "#3156c6", "#00008b"]);
  const g = svg.append("g");
  g.selectAll(null).data(M_pathways).enter().append("rect")
    .attr("x", cols("C. elegans")).attr("width", cols.bandwidth()).attr("y", d => rows(d)).attr("height", rows.bandwidth() + 0.3)
    .attr("fill", (d, i) => col(M_celegans[i]));
  g.selectAll(null).data(M_pathways).enter().append("rect")
    .attr("x", cols("E. coli")).attr("width", cols.bandwidth()).attr("y", d => rows(d)).attr("height", rows.bandwidth() + 0.3)
    .attr("fill", (d, i) => M_ecoli[i] == null ? "#e2e2e2" : col(M_ecoli[i]));
  g.append("rect").attr("x", 269.3).attr("y", 639.8).attr("width", 28.4).attr("height", 357).attr("fill", "none").attr("stroke", "#c4c4c4").attr("stroke-width", 1.2);
  M_pathways.forEach(m => addText(308, rows(m) + rows.bandwidth() / 2 + 2.7, m, { size: 7.5 }));
  addText(274, 638, "C. elegans", { size: 8.3, italic: true, rotate: -50 });
  addText(288, 638, "E. coli", { size: 8.3, italic: true, rotate: -50 });
  const mg = defs.append("linearGradient").attr("id", "mlp");
  [["0%", "#f4f4f4"], ["33%", "#a6cdf0"], ["55%", "#5cb5fb"], ["78%", "#3156c6"], ["100%", "#00008b"]].forEach(s => mg.append("stop").attr("offset", s[0]).attr("stop-color", s[1]));
  const LX = 462;
  const t = svg.append("text").attr("x", LX + 47).attr("y", 665).attr("font-size", 7).attr("font-style", "italic").attr("text-anchor", "end");
  t.append("tspan").text("-log");
  t.append("tspan").text("10").attr("font-size", 5).attr("dy", 1.5);
  t.append("tspan").text("(p-value)").attr("dy", -1.5);
  svg.append("rect").attr("x", LX).attr("y", 668.5).attr("width", 56).attr("height", 8).attr("fill", "url(#mlp)").attr("stroke", "#999").attr("stroke-width", 0.8);
  const lx = d3.scaleLinear().domain([0, 4]).range([LX + 2, LX + 49]);
  [0, 2, 4].forEach(v => addText(lx(v), 684.5, String(v), { size: 7.5, anchor: "middle" }));
  addText(LX + 35, 696, "N.A.", { size: 7.5, anchor: "end" });
  svg.append("rect").attr("x", LX + 37).attr("y", 689.5).attr("width", 8).attr("height", 7.5).attr("fill", "#fff").attr("stroke", "#333").attr("stroke-width", 0.9);
})();

// ======================= PANEL LETTERS =======================
[["A", 1, 10], ["B", 262, 10], ["C", 483, 10], ["D", 1, 151.5], ["E", 262, 151.5], ["F", 483, 140], ["G", 1, 294], ["H", 262, 298], ["I", 483, 299], ["J", 1, 471], ["K", 251, 475], ["L", 3, 648.5], ["M", 248, 648.5]]
  .forEach(([s, x, y]) => addText(x, y, s, { size: 11.5, weight: "bold" }));
</script></body></html>
